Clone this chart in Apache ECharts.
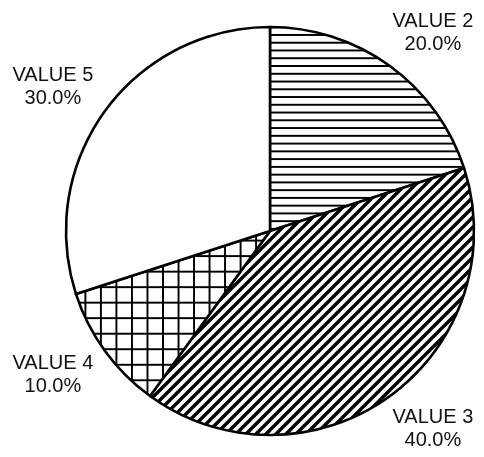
<!DOCTYPE html>
<html><head><meta charset="utf-8">
<script src="https://cdn.jsdelivr.net/npm/echarts@6/dist/echarts.min.js"></script>
<style>html,body{margin:0;padding:0;background:#fff}#c{width:484px;height:457px}</style>
</head><body><div id="c"></div>
<script>
const categories = ['VALUE 2', 'VALUE 3', 'VALUE 4', 'VALUE 5'];
const values = [20, 40, 10, 30];
const fills = ['horizontal', 'diagonal', 'grid', 'none'];

function makePattern(kind) {
  const c = document.createElement('canvas');
  let ctx;
  if (kind === 'horizontal') {
    c.width = 16; c.height = 8;
    ctx = c.getContext('2d');
    ctx.fillStyle = '#fff'; ctx.fillRect(0, 0, 16, 8);
    ctx.fillStyle = '#000'; ctx.fillRect(0, 3, 16, 2);
    return { image: c, repeat: 'repeat', scaleX: 0.97, scaleY: 0.97 };
  }
  if (kind === 'grid') {
    c.width = 16; c.height = 16;
    ctx = c.getContext('2d');
    ctx.fillStyle = '#fff'; ctx.fillRect(0, 0, 16, 16);
    ctx.fillStyle = '#000';
    ctx.fillRect(0, 7, 16, 2);
    ctx.fillRect(7, 0, 2, 16);
    return { image: c, repeat: 'repeat', scaleX: 0.97, scaleY: 0.97 };
  }
  if (kind === 'diagonal') {
    const p = 10;
    c.width = p; c.height = p;
    ctx = c.getContext('2d');
    ctx.fillStyle = '#fff'; ctx.fillRect(0, 0, p, p);
    ctx.strokeStyle = '#000'; ctx.lineWidth = 3.4;
    [0, p, 2 * p].forEach(k => {
      ctx.beginPath();
      ctx.moveTo(k + 3, -3);
      ctx.lineTo(k - p - 3, p + 3);
      ctx.stroke();
    });
    return { image: c, repeat: 'repeat' };
  }
  return '#ffffff';
}

const data = categories.map((name, i) => ({
  name: name,
  value: values[i],
  itemStyle: { color: makePattern(fills[i]) }
}));

const chart = echarts.init(document.getElementById('c'), null, { renderer: 'canvas' });
chart.setOption({
  animation: false,
  backgroundColor: '#ffffff',
  series: [{
    type: 'pie',
    center: [270, 231],
    radius: 204,
    startAngle: 90,
    clockwise: true,
    avoidLabelOverlap: false,
    silent: true,
    emphasis: { disabled: true },
    itemStyle: { borderColor: '#000', borderWidth: 2.6 },
    label: {
      show: true,
      position: 'outside',
      distanceToLabelLine: 0,
      formatter: p => `{a|${p.name}}\n{a|${p.percent.toFixed(1)}%}`,
      rich: {
        a: {
          fontFamily: 'Liberation Sans, Arial, sans-serif',
          fontSize: 20,
          lineHeight: 23,
          color: '#111111',
          align: 'center'
        }
      }
    },
    labelLine: { show: false, length: 41, length2: -21.5 },
    data: data
  }]
});
</script>
</body></html>
